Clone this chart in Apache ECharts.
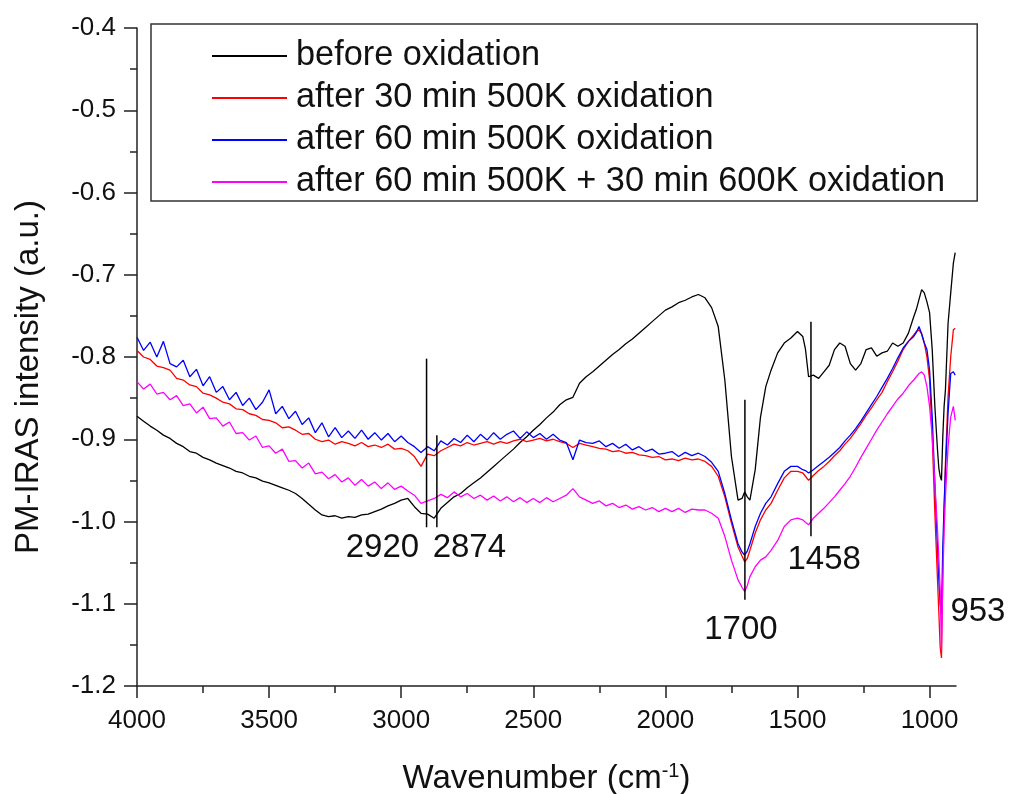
<!DOCTYPE html>
<html>
<head>
<meta charset="utf-8">
<script src="https://cdn.jsdelivr.net/npm/echarts@6/dist/echarts.min.js"></script>
<style>html,body{margin:0;padding:0;background:#fff;}#c{width:1011px;height:794px;}</style>
</head>
<body>
<div id="c"></div>
<script>
const wavenumbers = [
4000,3975,3950,3925,3900,3875,3850,3825,3800,3775,
3750,3725,3700,3675,3650,3625,3600,3575,3550,3525,
3500,3475,3450,3425,3400,3375,3350,3325,3300,3275,
3250,3225,3200,3175,3150,3125,3100,3075,3050,3025,
3000,2975,2950,2925,2900,2875,2850,2825,2800,2775,
2750,2725,2700,2675,2650,2625,2600,2575,2550,2525,
2500,2475,2450,2425,2400,2375,2350,2325,2300,2275,
2250,2225,2200,2175,2150,2125,2100,2075,2050,2025,
2000,1975,1950,1925,1900,1875,1850,
1825,1800,1775,1750,1725,1710,1700,1690,1680,1660,
1640,1620,1600,1575,1550,1525,1500,1480,1470,1458,
1440,1420,1400,1380,1360,1340,1320,1300,1280,1260,
1240,1220,1200,1180,1160,1140,1120,1100,1080,1060,
1050,1040,1030,1020,1010,1000,990,980,970,965,
960,955,950,945,940,930,920,910,903
];
const beforeOx = [
-0.872,-0.878,-0.884,-0.889,-0.895,-0.899,-0.905,-0.909,-0.915,-0.917,
-0.922,-0.925,-0.929,-0.932,-0.935,-0.939,-0.941,-0.945,-0.947,-0.951,
-0.953,-0.956,-0.959,-0.962,-0.966,-0.972,-0.979,-0.986,-0.992,-0.994,
-0.993,-0.996,-0.994,-0.995,-0.992,-0.991,-0.988,-0.985,-0.981,-0.978,
-0.974,-0.972,-0.982,-0.990,-0.991,-0.996,-0.984,-0.977,-0.970,-0.966,
-0.959,-0.953,-0.947,-0.940,-0.933,-0.926,-0.919,-0.912,-0.904,-0.897,
-0.889,-0.882,-0.874,-0.867,-0.858,-0.852,-0.849,-0.832,-0.824,-0.818,
-0.811,-0.804,-0.797,-0.791,-0.784,-0.778,-0.771,-0.764,-0.757,-0.750,
-0.743,-0.739,-0.734,-0.731,-0.727,-0.724,-0.728,
-0.740,-0.763,-0.828,-0.921,-0.974,-0.972,-0.964,-0.970,-0.974,-0.937,
-0.873,-0.836,-0.816,-0.795,-0.783,-0.777,-0.769,-0.775,-0.790,-0.824,
-0.822,-0.826,-0.818,-0.810,-0.791,-0.783,-0.787,-0.808,-0.816,-0.808,
-0.791,-0.789,-0.799,-0.795,-0.793,-0.783,-0.787,-0.783,-0.771,-0.751,
-0.742,-0.730,-0.718,-0.722,-0.733,-0.746,-0.791,-0.860,-0.913,-0.935,
-0.945,-0.950,-0.897,-0.860,-0.840,-0.759,-0.722,-0.686,-0.673
];
const after30min500K = [
-0.792,-0.800,-0.803,-0.811,-0.813,-0.816,-0.826,-0.828,-0.834,-0.836,
-0.844,-0.846,-0.850,-0.855,-0.857,-0.863,-0.864,-0.869,-0.871,-0.876,
-0.877,-0.880,-0.886,-0.885,-0.889,-0.894,-0.893,-0.900,-0.903,-0.901,
-0.906,-0.903,-0.905,-0.908,-0.904,-0.909,-0.907,-0.910,-0.906,-0.912,
-0.911,-0.914,-0.921,-0.933,-0.918,-0.920,-0.914,-0.910,-0.906,-0.908,
-0.904,-0.907,-0.905,-0.903,-0.906,-0.903,-0.905,-0.902,-0.900,-0.903,
-0.901,-0.899,-0.902,-0.900,-0.903,-0.905,-0.910,-0.905,-0.907,-0.909,
-0.911,-0.912,-0.915,-0.914,-0.917,-0.916,-0.919,-0.920,-0.922,-0.921,
-0.925,-0.924,-0.926,-0.923,-0.925,-0.924,-0.927,
-0.933,-0.945,-0.970,-1.002,-1.031,-1.042,-1.049,-1.045,-1.035,-1.014,
-0.998,-0.986,-0.978,-0.962,-0.947,-0.939,-0.939,-0.941,-0.945,-0.950,
-0.944,-0.938,-0.933,-0.927,-0.920,-0.914,-0.906,-0.899,-0.890,-0.881,
-0.871,-0.862,-0.852,-0.843,-0.830,-0.818,-0.805,-0.791,-0.781,-0.773,
-0.769,-0.767,-0.772,-0.783,-0.800,-0.828,-0.897,-0.990,-1.071,-1.110,
-1.152,-1.166,-1.061,-0.990,-0.929,-0.848,-0.800,-0.767,-0.765
];
const after60min500K = [
-0.776,-0.792,-0.782,-0.800,-0.781,-0.808,-0.812,-0.804,-0.824,-0.815,
-0.835,-0.824,-0.843,-0.836,-0.852,-0.843,-0.859,-0.850,-0.864,-0.855,
-0.840,-0.869,-0.860,-0.875,-0.866,-0.882,-0.874,-0.892,-0.880,-0.897,
-0.886,-0.898,-0.890,-0.899,-0.889,-0.900,-0.892,-0.901,-0.893,-0.903,
-0.896,-0.904,-0.909,-0.916,-0.909,-0.914,-0.902,-0.907,-0.899,-0.904,
-0.895,-0.903,-0.894,-0.901,-0.892,-0.900,-0.894,-0.890,-0.899,-0.891,
-0.898,-0.893,-0.900,-0.894,-0.901,-0.904,-0.925,-0.901,-0.904,-0.905,
-0.902,-0.909,-0.905,-0.911,-0.906,-0.913,-0.909,-0.915,-0.912,-0.918,
-0.917,-0.915,-0.921,-0.916,-0.920,-0.917,-0.921,
-0.928,-0.939,-0.966,-0.998,-1.027,-1.037,-1.041,-1.036,-1.027,-1.006,
-0.990,-0.978,-0.970,-0.954,-0.939,-0.933,-0.933,-0.937,-0.938,-0.941,
-0.937,-0.932,-0.927,-0.922,-0.916,-0.910,-0.902,-0.895,-0.887,-0.878,
-0.868,-0.858,-0.848,-0.837,-0.826,-0.814,-0.801,-0.789,-0.781,-0.775,
-0.770,-0.763,-0.772,-0.783,-0.791,-0.816,-0.873,-0.954,-1.031,-1.070,
-1.100,-1.112,-1.031,-0.980,-0.937,-0.868,-0.820,-0.818,-0.822
];
const after60min500K30min600K = [
-0.830,-0.839,-0.833,-0.845,-0.843,-0.852,-0.847,-0.859,-0.857,-0.868,
-0.861,-0.875,-0.874,-0.884,-0.879,-0.893,-0.892,-0.901,-0.896,-0.910,
-0.908,-0.917,-0.912,-0.927,-0.926,-0.935,-0.929,-0.942,-0.940,-0.948,
-0.943,-0.952,-0.947,-0.956,-0.949,-0.957,-0.952,-0.960,-0.953,-0.961,
-0.957,-0.963,-0.968,-0.978,-0.975,-0.972,-0.967,-0.971,-0.964,-0.970,
-0.966,-0.972,-0.968,-0.974,-0.969,-0.975,-0.970,-0.976,-0.971,-0.977,
-0.972,-0.977,-0.971,-0.976,-0.972,-0.968,-0.960,-0.970,-0.974,-0.978,
-0.975,-0.981,-0.978,-0.983,-0.980,-0.985,-0.982,-0.986,-0.983,-0.988,
-0.984,-0.988,-0.984,-0.989,-0.985,-0.986,-0.986,
-0.990,-0.996,-1.018,-1.047,-1.071,-1.080,-1.085,-1.078,-1.067,-1.055,
-1.047,-1.043,-1.035,-1.023,-1.006,-0.998,-0.996,-0.998,-1.001,-1.004,
-0.996,-0.990,-0.984,-0.977,-0.970,-0.962,-0.954,-0.945,-0.934,-0.922,
-0.911,-0.900,-0.889,-0.879,-0.869,-0.860,-0.851,-0.844,-0.835,-0.828,
-0.824,-0.820,-0.818,-0.822,-0.836,-0.860,-0.897,-0.954,-1.011,-1.045,
-1.083,-1.156,-1.071,-1.010,-0.970,-0.909,-0.873,-0.860,-0.877
];
const seriesNames = ['before oxidation','after 30 min 500K oxidation','after 60 min 500K oxidation','after 60 min 500K + 30 min 600K oxidation'];
const seriesColors = ['#000000','#ff0000','#0000ff','#ff00ff'];
const seriesValues = [beforeOx, after30min500K, after60min500K, after60min500K30min600K];

// peak marker lines: wavenumber, top value, bottom value
const markerX = [2904, 2865, 1699, 1449];
const markerTop = [-0.802, -0.895, -0.852, -0.757];
const markerBottom = [-1.007, -1.007, -1.095, -1.018];
// peak labels
const peakLabelText = ['2920','2874','1700','1458','953'];
const peakLabelX = [3071, 2742, 1714, 1399, 817];
const peakLabelY = [-1.032, -1.032, -1.132, -1.047, -1.110];

const xMajorTicks = [4000,3500,3000,2500,2000,1500,1000];
const xMinorTicks = [3750,3250,2750,2250,1750,1250];

const FONT = 'Liberation Sans, Arial, sans-serif';
const TXT = '#111111';

const chart = echarts.init(document.getElementById('c'), null, {renderer:'canvas'});

const lineSeries = seriesNames.map((name, i) => ({
  name: name,
  type: 'line',
  data: wavenumbers.map((w, k) => [w, seriesValues[i][k]]),
  showSymbol: false,
  symbol: 'none',
  lineStyle: {color: seriesColors[i], width: 1.3},
  itemStyle: {color: seriesColors[i]},
  animation: false,
  z: 3 + i
}));

const option = {
  animation: false,
  backgroundColor: '#ffffff',
  grid: {left: 137, right: 55, top: 28, bottom: 108, containLabel: false, outerBoundsMode: 'none'},
  legend: {
    data: seriesNames.map((n, i) => ({name: n, icon: 'rect', itemStyle: {color: seriesColors[i]}})),
    orient: 'vertical',
    left: 151, top: 24,
    padding: [15, 32, 2, 61],
    itemWidth: 75, itemHeight: 2, itemGap: 8,
    borderColor: '#333', borderWidth: 1.5,
    backgroundColor: '#fff',
    textStyle: {fontFamily: FONT, fontSize: 34.3, color: TXT, lineHeight: 34, padding: [0,0,0,4]},
    selectedMode: false
  },
  xAxis: [{
    type: 'value', inverse: true, min: 900, max: 4000,
    name: '{a|Wavenumber (cm}{s|-1}{a|)}',
    nameLocation: 'middle', nameGap: 75,
    nameTextStyle: {rich: {a: {fontFamily: FONT, fontSize: 33, color: TXT, lineHeight: 36}, s: {fontFamily: FONT, fontSize: 20, color: TXT, verticalAlign: 'top', lineHeight: 20}}},
    axisLine: {show: true, lineStyle: {color: '#222', width: 1.5}},
    axisTick: {show: true, inside: false, length: 12, customValues: xMajorTicks, lineStyle: {color: '#222', width: 1.5}},
    axisLabel: {show: true, customValues: xMajorTicks, margin: 22, fontFamily: FONT, fontSize: 26, color: TXT, formatter: v => String(Math.round(v))},
    splitLine: {show: false}
  }, {
    type: 'value', inverse: true, min: 900, max: 4000, position: 'bottom', gridIndex: 0,
    axisLine: {show: false},
    axisTick: {show: true, inside: false, length: 7, customValues: xMinorTicks, lineStyle: {color: '#222', width: 1.5}},
    axisLabel: {show: false},
    splitLine: {show: false}
  }],
  yAxis: {
    type: 'value', min: -1.2, max: -0.4, interval: 0.1,
    name: 'PM-IRAS intensity (a.u.)',
    nameLocation: 'middle', nameGap: 92, nameRotate: 90,
    nameTextStyle: {fontFamily: FONT, fontSize: 33, color: TXT, padding: [0, 40, 0, 0]},
    axisLine: {show: true, lineStyle: {color: '#222', width: 1.5}},
    axisTick: {show: true, inside: false, length: 13, lineStyle: {color: '#222', width: 1.5}},
    minorTick: {show: true, splitNumber: 2, length: 7, lineStyle: {color: '#222', width: 1.5}},
    axisLabel: {margin: 21, fontFamily: FONT, fontSize: 26, color: TXT, formatter: v => v.toFixed(1)},
    splitLine: {show: false}
  },
  series: lineSeries.concat([
    {
      type: 'custom',
      name: 'markers',
      xAxisIndex: 0,
      data: markerX.map((x, i) => [x, markerTop[i], markerBottom[i]]),
      encode: {x: 0, y: [1, 2]},
      renderItem: function (params, api) {
        const p1 = api.coord([api.value(0), api.value(1)]);
        const p2 = api.coord([api.value(0), api.value(2)]);
        return {type: 'line', shape: {x1: p1[0], y1: p1[1], x2: p2[0], y2: p2[1]}, style: {stroke: '#000', lineWidth: 1.5}};
      },
      z: 10, animation: false, silent: true
    },
    {
      type: 'scatter',
      name: 'labels',
      xAxisIndex: 0,
      clip: false,
      symbolSize: 0,
      itemStyle: {opacity: 1},
      data: peakLabelX.map((x, i) => [x, peakLabelY[i], peakLabelText[i]]),
      label: {show: true, position: 'inside', formatter: p => p.value[2], fontFamily: FONT, fontSize: 33, color: '#111', textBorderWidth: 0, opacity: 1},
      z: 10, animation: false, silent: true
    }
  ])
};
chart.setOption(option);
</script>
</body>
</html>
